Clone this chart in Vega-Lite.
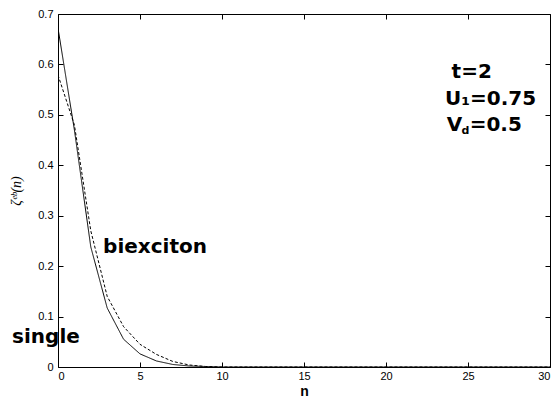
{
  "$schema": "https://vega.github.io/schema/vega-lite/v6.json",
  "width": 492,
  "height": 353,
  "autosize": {"type": "none"},
  "padding": {"left": 58, "top": 14, "right": 4, "bottom": 31},
  "background": "white",
  "config": {
    "view": {"stroke": "black", "strokeWidth": 1},
    "axis": {"domainColor": "black", "tickColor": "black", "labelColor": "black", "titleColor": "black", "grid": false, "labelFont": "Liberation Sans", "labelFontSize": 11}
  },
  "resolve": {"axis": {"x": "independent", "y": "independent"}},
  "datasets": {
    "curves": [
      {"n": 0, "v": 0.672, "s": "single"},
      {"n": 1, "v": 0.47, "s": "single"},
      {"n": 2, "v": 0.238, "s": "single"},
      {"n": 3, "v": 0.117, "s": "single"},
      {"n": 4, "v": 0.055, "s": "single"},
      {"n": 5, "v": 0.026, "s": "single"},
      {"n": 6, "v": 0.012, "s": "single"},
      {"n": 7, "v": 0.005, "s": "single"},
      {"n": 8, "v": 0.002, "s": "single"},
      {"n": 9, "v": 0.001, "s": "single"},
      {"n": 10, "v": 0.0, "s": "single"},
      {"n": 15, "v": 0.0, "s": "single"},
      {"n": 20, "v": 0.0, "s": "single"},
      {"n": 25, "v": 0.0, "s": "single"},
      {"n": 30, "v": 0.0, "s": "single"},
      {"n": 0, "v": 0.579, "s": "biexciton"},
      {"n": 1, "v": 0.48, "s": "biexciton"},
      {"n": 2, "v": 0.27, "s": "biexciton"},
      {"n": 3, "v": 0.14, "s": "biexciton"},
      {"n": 4, "v": 0.08, "s": "biexciton"},
      {"n": 5, "v": 0.045, "s": "biexciton"},
      {"n": 6, "v": 0.025, "s": "biexciton"},
      {"n": 7, "v": 0.011, "s": "biexciton"},
      {"n": 8, "v": 0.004, "s": "biexciton"},
      {"n": 9, "v": 0.001, "s": "biexciton"},
      {"n": 10, "v": 0.0, "s": "biexciton"},
      {"n": 15, "v": 0.0, "s": "biexciton"},
      {"n": 20, "v": 0.0, "s": "biexciton"},
      {"n": 25, "v": 0.0, "s": "biexciton"},
      {"n": 30, "v": 0.0, "s": "biexciton"}
    ],
    "labels": [
      {"n": 2.75, "v": 0.226, "t": "biexciton"},
      {"n": -2.8, "v": 0.048, "t": "single"},
      {"n": 24.0, "v": 0.573, "t": "t=2"},
      {"n": 23.6, "v": 0.52, "t": "U₁=0.75"},
      {"n": 23.7, "v": 0.468, "t": "V"},
      {"n": 25.1, "v": 0.468, "t": "=0.5"}
    ],
    "subs": [
      {"n": 24.6, "v": 0.463, "t": "d"}
    ]
  },
  "layer": [
    {
      "data": {"name": "curves"},
      "mark": {"type": "line", "color": "black", "strokeWidth": 1, "clip": true},
      "encoding": {
        "x": {"field": "n", "type": "quantitative", "scale": {"domain": [0, 30], "nice": false},
          "axis": {"values": [0, 5, 10, 15, 20, 25, 30], "tickSize": -5, "labelPadding": 8, "domain": false, "title": "n", "titleFont": "Liberation Sans", "titleFontSize": 14, "titleFontWeight": "bold", "titleBaseline": "top", "titleY": 17}},
        "y": {"field": "v", "type": "quantitative", "scale": {"domain": [0, 0.7], "nice": false},
          "axis": {"values": [0, 0.1, 0.2, 0.3, 0.4, 0.5, 0.6, 0.7], "labelExpr": "datum.value == 0 ? '0' : datum.label", "tickSize": -5, "labelPadding": 10, "domain": false, "title": "ζᵉᵇ(n)", "titleFont": "Liberation Serif", "titleFontSize": 14, "titleFontWeight": "normal", "titleFontStyle": "italic", "titlePadding": 14}},
        "detail": {"field": "s"},
        "strokeDash": {"field": "s", "type": "nominal", "scale": {"domain": ["single", "biexciton"], "range": [[1, 0], [3, 2]]}, "legend": null}
      }
    },
    {
      "data": {"name": "curves"},
      "mark": {"type": "point", "opacity": 0},
      "encoding": {
        "x": {"field": "n", "type": "quantitative", "axis": {"orient": "top", "values": [0, 5, 10, 15, 20, 25, 30], "tickSize": -5, "labels": false, "domain": false, "title": null}},
        "y": {"field": "v", "type": "quantitative", "axis": {"orient": "right", "values": [0, 0.1, 0.2, 0.3, 0.4, 0.5, 0.6, 0.7], "tickSize": -5, "labels": false, "domain": false, "title": null}}
      }
    },
    {
      "data": {"name": "labels"},
      "mark": {"type": "text", "align": "left", "baseline": "alphabetic", "font": "DejaVu Sans", "fontWeight": "bold", "fontSize": 20, "color": "black"},
      "encoding": {
        "x": {"field": "n", "type": "quantitative", "axis": null},
        "y": {"field": "v", "type": "quantitative", "axis": null},
        "text": {"field": "t"}
      }
    },
    {
      "data": {"name": "subs"},
      "mark": {"type": "text", "align": "left", "baseline": "alphabetic", "font": "DejaVu Sans", "fontWeight": "bold", "fontSize": 11, "color": "black"},
      "encoding": {
        "x": {"field": "n", "type": "quantitative", "axis": null},
        "y": {"field": "v", "type": "quantitative", "axis": null},
        "text": {"field": "t"}
      }
    }
  ]
}
